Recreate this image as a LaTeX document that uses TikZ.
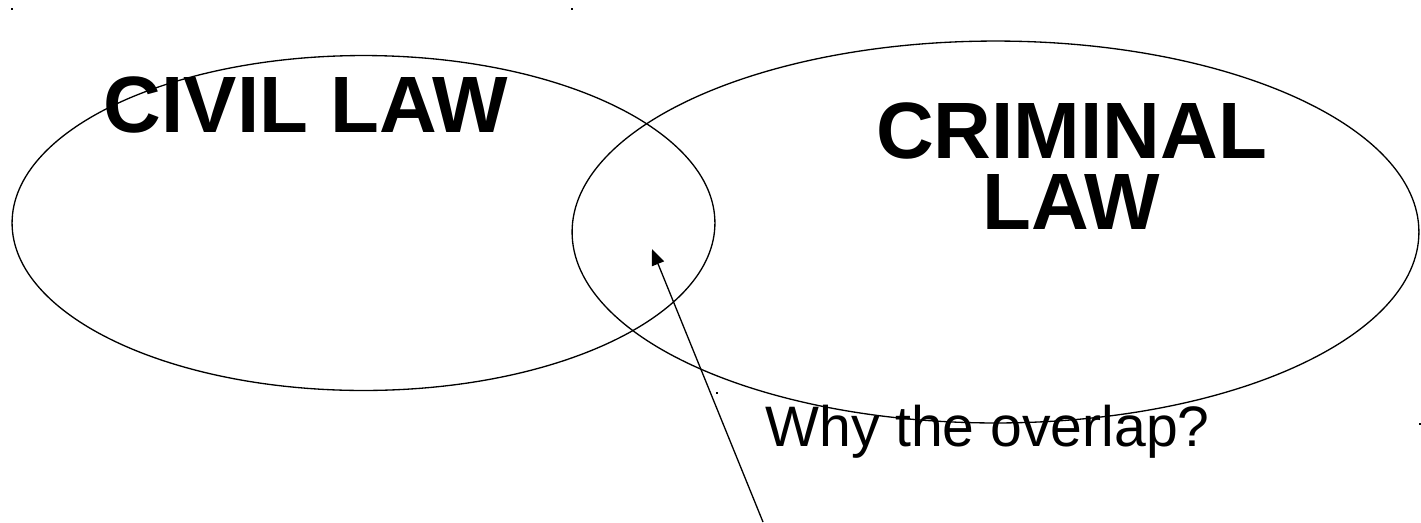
\documentclass[tikz,border=0pt]{standalone}
\usepackage{fontspec}
\setmainfont{Liberation Sans}
\usepackage{xcolor}
\usepackage{tikz}
\usetikzlibrary{shapes.geometric, arrows.meta, positioning}
\tikzset{
  lawset/.style ={ellipse, draw=black, line width=0.75pt, inner sep=0pt, outer sep=0pt},
  lawlbl/.style ={font=\fontsize{45.5}{40}\selectfont\bfseries, align=center, inner sep=0pt},
  asklbl/.style ={font=\fontsize{32.5}{36}\selectfont, inner sep=0pt, anchor=base west},
  askarr/.style ={-{Triangle[length=3.2mm, width=2.6mm]}, line width=0.75pt},
  cornermark/.style={fill=black, inner sep=0pt, minimum size=1.2pt},
}
\begin{document}
\begin{tikzpicture}[x=0.02cm, y=-0.02cm]
  \useasboundingbox (0,0) rectangle (1421,522);
  \node[lawset, minimum width=14.06cm, minimum height=6.7cm]  (civil) at (363.5,223) {};
  \node[lawset, minimum width=16.94cm, minimum height=7.64cm] (crim)  at (995.5,232) {};
  \node[lawlbl] (civiltxt) at (306,105) {CIVIL LAW};
  \node[lawlbl] (crimtxt)  at (1071.5,166) {CRIMINAL\\LAW};
  \node[asklbl] (ask) at (765,446) {Why the overlap?};
  % arrow into the overlap
  \coordinate (overlap) at (652,249);
  \coordinate (askfoot) at (763,522);
  \draw[askarr] (askfoot) -- (overlap);
  % small corner marks
  \node[cornermark] (m1) at (12,9) {};
  \node[cornermark] (m2) at (572,9) {};
  \node[cornermark] (m3) at (717,393) {};
  \node[cornermark] (m4) at (1420,424) {};
\end{tikzpicture}
\end{document}
